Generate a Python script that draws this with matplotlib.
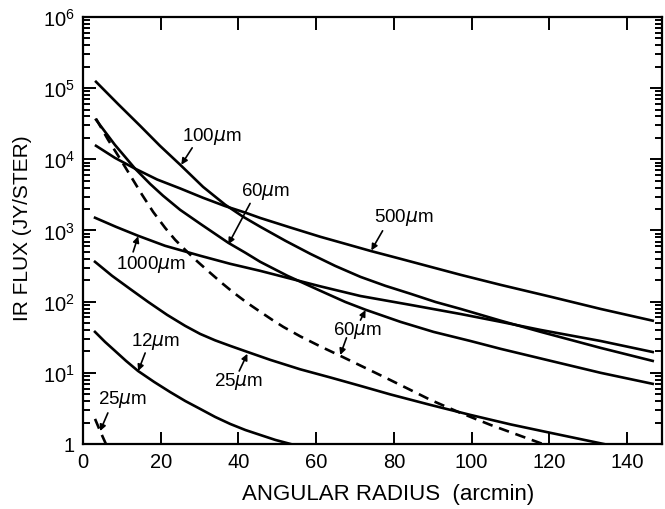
import matplotlib
matplotlib.use("Agg")
import matplotlib.pyplot as plt
from matplotlib.ticker import LogLocator, FixedLocator, NullFormatter

plt.rcParams['font.family'] = ['Liberation Sans', 'DejaVu Sans']
plt.rcParams['mathtext.default'] = 'regular'

# curves: angular radius (arcmin) vs IR flux (Jy/ster)
x_100 = [3.35, 9.0, 14.7, 19.8, 25.0, 30.9, 36.6, 41.2, 45.6, 52.1, 58.5, 64.9,
         71.4, 77.8, 84.3, 90.7, 97.2, 107.5, 117.8, 133.2, 146.6]
f_100 = [1.23e5, 6.0e4, 2.96e4, 1.55e4, 8.4e3, 4.1e3, 2.3e3, 1.56e3, 1.13e3, 716, 470, 318,
         223, 167, 129, 99, 79, 54, 37.6, 22.4, 14.7]

x_1000 = [3.1, 8.5, 14.2, 21.1, 30.2, 37.9, 45.6, 52.6, 61.1, 71.4, 84.3, 97.2,
          107.5, 117.8, 133.2, 146.6]
f_1000 = [1510, 1125, 842, 610, 441, 340, 271, 216, 164, 120, 90, 67,
          52, 40, 28, 19.6]

x_500 = [3.35, 8.2, 13.4, 19.1, 25.0, 30.9, 36.6, 41.8, 45.6, 53.4, 61.1, 67.5,
         74.0, 81.7, 89.4, 97.2, 107.5, 120.4, 133.2, 146.6]
f_500 = [1.55e4, 1.05e4, 7.4e3, 5.2e3, 3.9e3, 2.88e3, 2.2e3, 1.78e3, 1.5e3, 1.1e3, 815, 650,
         516, 400, 309, 238, 172, 117, 79, 54]

x_60 = [3.35, 8.2, 13.4, 17.3, 20.6, 25.0, 30.2, 37.4, 41.8, 45.6, 52.6, 61.1,
        67.5, 72.7, 81.7, 90.2, 99.7, 107.5, 120.4, 133.2, 146.6]
f_60 = [3.6e4, 1.6e4, 7.4e3, 4.5e3, 3.08e3, 1.95e3, 1.24e3, 671, 486, 363, 231, 142,
        99, 77, 52, 37.6, 28, 21.7, 14.7, 10, 7.0]

x_60d = [3.35, 6.44, 9.54, 12.37, 15.2, 18.04, 21.13, 23.71, 26.29, 29.38, 32.73, 35.82,
         38.66, 42.27, 45.62, 48.71, 51.55, 55.93, 61.08, 66.24, 72.68, 79.12, 84.28,
         89.43, 97.16, 104.9, 111.3, 118.3]
f_60d = [3.72e4, 1.89e4, 1.02e4, 5.7e3, 3.18e3, 1.83e3, 1.09e3, 740, 535, 369, 254, 181,
         135, 96, 72, 55.5, 44.2, 32.5, 23.5, 17.3, 11.7, 7.9, 5.74,
         4.16, 2.73, 1.85, 1.38, 1.0]

x_12 = [3.09, 5.67, 8.25, 11.08, 14.18, 18.3, 22.4, 26.3, 30.2, 34.0, 37.9, 41.8,
        45.6, 49.5, 53.4]
f_12 = [37.6, 27.2, 20.3, 14.7, 10.6, 7.45, 5.38, 4.02, 3.1, 2.4, 1.91, 1.57,
        1.34, 1.14, 1.0]

x_25 = [3.09, 7.47, 12.11, 16.75, 21.65, 26.29, 30.15, 34.0, 37.9, 42.27, 48.2, 55.9,
        63.66, 71.4, 79.1, 89.4, 99.7, 110.1, 120.4, 134.0]
f_25 = [363, 231, 151, 99.3, 65.2, 45.7, 35.2, 28.6, 23.9, 19.7, 15.2, 11.2,
        8.6, 6.55, 4.97, 3.54, 2.56, 1.88, 1.43, 1.0]

x_25d = [3.1, 4.4, 5.9]
f_25d = [2.25, 1.52, 1.0]

# curve labels: text, text position, arrow tails and tips
label_text = ["100", "60", "500", "1000", "60", "12", "25", "25"]
label_xy = [(33.2, 2.14e4), (46.9, 3.7e3), (82.5, 1.55e3), (17.5, 340),
            (70.6, 41), (18.6, 28), (40.0, 7.7), (10.1, 4.3)]
arrow_tail = [(28.1, 1.45e4), (43.0, 2.4e3), (77.1, 990), (12.9, 500),
              (71.4, 55), (16.0, 19), (40.2, 10.6), (6.4, 2.73), (67.8, 31)]
arrow_tip = [(25.3, 8.4e3), (37.4, 640), (74.2, 525), (14.2, 830),
             (72.7, 76), (14.2, 10.6), (42.3, 18.5), (4.4, 1.52), (66.2, 17.8)]

fig = plt.figure(figsize=(6.65, 5.10), dpi=100)
ax = fig.add_axes([0.1248, 0.1275, 0.8707, 0.8372])

lw = 1.9
for xs, fs in [(x_100, f_100), (x_1000, f_1000), (x_500, f_500),
               (x_60, f_60), (x_12, f_12), (x_25, f_25)]:
    ax.plot(xs, fs, color='black', lw=lw, solid_joinstyle='round')
for xs, fs in [(x_60d, f_60d), (x_25d, f_25d)]:
    ax.plot(xs, fs, color='black', lw=lw, dashes=(4, 2.6))

for txt, (tx, ty) in zip(label_text, label_xy):
    ax.text(tx, ty, txt + r'$\mathit{\mu}$m', fontsize=13.5, ha='center', va='center')
for tail, tip in zip(arrow_tail, arrow_tip):
    ax.annotate('', xy=tip, xytext=tail,
                arrowprops=dict(arrowstyle='-|>', color='black', lw=1.2,
                                mutation_scale=9, shrinkA=0, shrinkB=0))

ax.set_yscale('log')
ax.set_xlim(0, 149)
ax.set_ylim(1, 1e6)

ax.xaxis.set_major_locator(FixedLocator([0, 20, 40, 60, 80, 100, 120, 140]))
ax.yaxis.set_major_locator(FixedLocator([1, 10, 100, 1e3, 1e4, 1e5, 1e6]))
ax.set_yticklabels(["1", "$10^1$", "$10^2$", "$10^3$", "$10^4$", "$10^5$", "$10^6$"])
ax.yaxis.set_minor_locator(LogLocator(base=10, subs=range(2, 10), numticks=20))
ax.yaxis.set_minor_formatter(NullFormatter())

ax.tick_params(which='both', direction='in', top=True, right=True, width=1.4,
               labelsize=14.5, color='black')
ax.tick_params(which='major', length=9, pad=6)
ax.tick_params(which='minor', length=5)
for sp in ax.spines.values():
    sp.set_linewidth(1.6)

ax.set_xlabel("ANGULAR RADIUS  (arcmin)", fontsize=16)
ax.xaxis.set_label_coords(0.527, -0.092)
ax.set_ylabel("IR FLUX (JY/STER)", fontsize=15)
ax.yaxis.set_label_coords(-0.088, 0.508)

fig.savefig("out.png", dpi=100)
